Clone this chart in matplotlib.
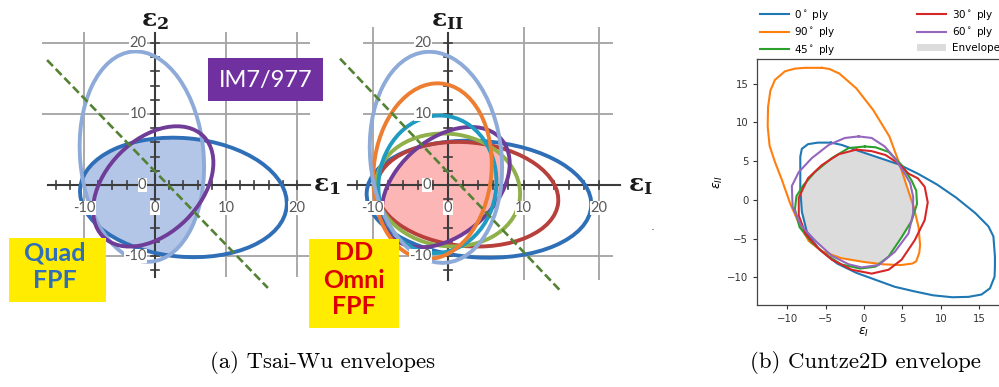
import numpy as np
import matplotlib
matplotlib.use("Agg")
import matplotlib.pyplot as plt
from matplotlib.patches import Ellipse, Rectangle

W, H = 999, 387

# ---- (a) Tsai-Wu ply ellipses in strain space: centre, semi-axes, tilt (deg) ----
quad_plies = ["0", "90", "45"]
quad_cx = [4.0, -1.85, -0.25]
quad_cy = [-1.75, 4.0, -0.2]
quad_a = [14.6, 14.85, 10.0]
quad_b = [8.35, 8.7, 6.6]
quad_tilt = [-5, 95, 45]
quad_colors = ["#2e6fb7", "#8eaad8", "#6f3d98"]
quad_envelope = ["0", "90"]
quad_cut_x = [-15.2, 15.9]
quad_cut_y = [17.6, -14.5]

omni_plies = ["0", "15", "30", "45", "60", "75", "90"]
omni_cx = [4.1, 2.55, 0.0, -0.3, -1.4, -2.05, -1.6]
omni_cy = [-2.0, -1.3, -0.7, -0.3, 0.1, 1.95, 3.9]
omni_a = [14.9, 12.1, 9.6, 10.0, 9.7, 12.4, 14.9]
omni_b = [8.2, 7.3, 7.9, 6.6, 7.8, 7.8, 8.7]
omni_tilt = [-4, -6, -10, 45, 85, 85, 95]
omni_colors = ["#2e6fb7", "#b8403c", "#8fb04a", "#6f3d98", "#1f9ac0", "#ed7d31", "#8eaad8"]
omni_envelope = ["0", "15", "45", "90"]
omni_cut_x = [-14.3, 14.8]
omni_cut_y = [17.8, -14.8]

tick_label_vals = [-10, 0, 10, 20]
ytick_label_vals = [20, 10, 0, -10]
grid_vals = [-10, 10, 20]
minor_vals = [v for v in range(-14, 22, 2) if v != 0]

# ---- (b) Cuntze2D failure curves (eps_I, eps_II) ----
c0_x = [-4.3, -6.0, -7.3, -8.1, -8.3, -8.3, -8.3, -8.1, -7.4, -5.8, -3.5, -1.0, 1.5, 4.0,
        6.6, 9.0, 11.5, 13.6, 15.3, 16.4, 17.0, 17.05, 17.05, 16.85, 16.2, 14.5, 12.0, 9.5,
        7.0, 4.5, 1.5, -1.2, -2.9]
c0_y = [7.4, 7.4, 7.2, 6.6, 5.6, 4.0, 1.5, -1.5, -4.3, -6.4, -8.2, -9.4, -10.3, -11.2,
        -11.8, -12.3, -12.55, -12.5, -12.2, -11.4, -9.9, -8.6, -7.3, -4.7, -3.4, -1.7, 0.3,
        2.0, 3.4, 4.6, 5.6, 6.5, 7.1]
c90_x = [-5.5, -7.7, -9.0, -10.3, -11.6, -12.2, -12.5, -12.55, -12.3, -11.6, -10.7, -9.6,
         -8.4, -7.2, -5.5, -3.0, 0.0, 2.5, 4.8, 6.3, 6.8, 7.2, 7.3, 7.1, 6.5, 5.6, 4.6, 3.3,
         1.2, -1.0, -3.2, -4.5]
c90_y = [17.05, 17.05, 16.95, 16.6, 15.5, 14.1, 12.0, 9.5, 7.0, 4.9, 2.6, -0.5, -3.2, -5.3,
         -6.6, -7.5, -8.0, -8.3, -8.4, -8.2, -7.9, -6.8, -5.8, -3.5, -1.0, 1.7, 4.7, 8.2,
         11.6, 14.4, 16.3, 16.9]
c45_x = [0.1, -2.0, -4.2, -6.4, -7.9, -8.8, -9.0, -8.4, -6.8, -5.0, -3.0, -0.5, 1.5, 3.2,
         4.9, 6.2, 6.9, 6.8, 6.2, 4.9, 3.2, 1.5]
c45_y = [6.9, 6.7, 5.4, 3.6, 1.9, 0.5, -1.2, -3.5, -5.5, -7.0, -8.3, -8.85, -8.6, -7.3,
         -4.8, -2.7, -0.5, 1.2, 2.5, 4.5, 6.2, 6.8]
c30_x = [-1.0, -3.3, -5.5, -7.3, -8.5, -8.5, -7.6, -6.0, -4.2, -1.6, 1.0, 3.2, 4.9, 6.6,
         7.9, 8.3, 7.9, 7.0, 5.8, 4.5, 2.8, 1.0]
c30_y = [6.5, 5.9, 4.5, 2.8, 0.3, -2.0, -4.4, -6.2, -7.7, -9.0, -9.5, -9.0, -7.7, -5.2,
         -2.6, -0.3, 1.7, 2.8, 3.4, 4.7, 5.8, 6.3]
c60_x = [-0.7, -2.5, -4.6, -6.8, -8.5, -9.4, -9.3, -8.2, -6.2, -4.2, -2.0, -0.3, 1.9, 4.0,
         5.8, 6.4, 6.4, 6.0, 5.3, 4.0, 2.7, 1.0]
c60_y = [8.2, 8.0, 7.1, 5.4, 3.6, 1.8, -0.9, -3.3, -5.4, -7.2, -8.3, -8.7, -8.4, -6.7,
         -4.3, -1.7, 0.4, 2.2, 3.4, 5.4, 6.9, 8.0]

cuntze_labels = ["0$^\\circ$ ply", "90$^\\circ$ ply", "45$^\\circ$ ply",
                 "30$^\\circ$ ply", "60$^\\circ$ ply"]
cuntze_x = [c0_x, c90_x, c45_x, c30_x, c60_x]
cuntze_y = [c0_y, c90_y, c45_y, c30_y, c60_y]
cuntze_colors = ["#1f77b4", "#ff7f0e", "#2ca02c", "#d62728", "#9467bd"]
envelope_color = "#dcdcdc"

theta = np.linspace(0, 2 * np.pi, 721)


def ellipse_reach(cx, cy, a, b, tilt):
    # distance from the origin to the ellipse boundary along every ray
    t = np.deg2rad(tilt)
    c, s = np.cos(t), np.sin(t)
    dx, dy = np.cos(theta), np.sin(theta)
    ux, uy = c * dx + s * dy, -s * dx + c * dy
    wx, wy = c * cx + s * cy, -s * cx + c * cy
    A = ux ** 2 / a ** 2 + uy ** 2 / b ** 2
    B = ux * wx / a ** 2 + uy * wy / b ** 2
    C = wx ** 2 / a ** 2 + wy ** 2 / b ** 2 - 1
    return (B + np.sqrt(B ** 2 - A * C)) / A


def polygon_reach(px, py):
    x0, y0 = np.asarray(px, float), np.asarray(py, float)
    ex, ey = np.roll(x0, -1) - x0, np.roll(y0, -1) - y0
    dx, dy = np.cos(theta)[:, None], np.sin(theta)[:, None]
    den = dx * ey - dy * ex
    with np.errstate(divide="ignore", invalid="ignore"):
        r = (x0 * ey - y0 * ex) / den
        s = (x0 * dy - y0 * dx) / den
    r = np.where((s >= 0) & (s <= 1) & (r > 0), r, np.inf)
    return r.min(axis=1)


def fig_box(left, top, right, bottom):
    return [left / W, 1 - bottom / H, (right - left) / W, (bottom - top) / H]


def tsai_wu(box, origin, scale, plies, cx, cy, a, b, tilt, colors, members, fill,
            cut_x, cut_y, grid_x, grid_y, axis_x, axis_y, ylab_x, lab_top, lab_right):
    left, top, right, bottom = box
    ox, oy = origin
    sx, sy = scale
    ax = fig.add_axes(fig_box(*box))
    ax.set_xlim((left - ox) / sx, (right - ox) / sx)
    ax.set_ylim((oy - bottom) / sy, (oy - top) / sy)
    ax.axis("off")

    grid_kw = dict(color="#a3a3a3", lw=1.3, zorder=1, solid_capstyle="butt")
    for v in grid_vals:
        ax.plot([v, v], grid_y, **grid_kw)
        ax.plot(grid_x, [v, v], **grid_kw)

    r = np.full(theta.shape, np.inf)
    for i, p in enumerate(plies):
        if p in members:
            r = np.minimum(r, ellipse_reach(cx[i], cy[i], a[i], b[i], tilt[i]))
    ax.fill(r * np.cos(theta), r * np.sin(theta), color=fill, lw=0, zorder=2)

    axis_kw = dict(color="#3c3c3c", lw=1.5, zorder=3)
    ax.plot(axis_x, [0, 0], **axis_kw)
    ax.plot([0, 0], axis_y, **axis_kw)
    hx, hy = 4.0 / sx, 4.0 / sy
    for v in minor_vals:
        if axis_x[0] < v < axis_x[1]:
            ax.plot([v, v], [-hy, hy], color="#3c3c3c", lw=1.2, zorder=3)
        if axis_y[0] < v < axis_y[1]:
            ax.plot([-hx, hx], [v, v], color="#3c3c3c", lw=1.2, zorder=3)

    for i in range(len(plies)):
        ax.add_patch(Ellipse((cx[i], cy[i]), 2 * a[i], 2 * b[i], angle=tilt[i],
                             fill=False, ec=colors[i], lw=2.8, zorder=4))

    ax.plot(cut_x, cut_y, color="#548235", lw=1.9, ls=(0, (3.2, 1.5)), zorder=5)

    lab_kw = dict(fontsize=10.5, family="Lato", color="#595959", zorder=6,
                  bbox=dict(fc="white", ec="none", pad=0.3))
    for v in tick_label_vals:
        ax.text(v, -23 / sy, str(v), ha="center", va="center", **lab_kw)
    for v in ytick_label_vals:
        ax.text(ylab_x, v, str(v), ha="right", va="center", **lab_kw)

    ax.text(0, (oy - 20) / sy, lab_top, ha="center", va="center", fontsize=18,
            math_fontfamily="dejavuserif", color="#1a1a1a", zorder=6)
    ax.text((lab_right[0] - ox) / sx, 0, lab_right[1], ha="center", va="center",
            fontsize=18, math_fontfamily="dejavuserif", color="#1a1a1a", zorder=6)
    return ax


fig = plt.figure(figsize=(W / 100, H / 100), dpi=100)

tsai_wu((0, 0, 335, 340), (155, 185), (7.1, 7.1), quad_plies, quad_cx, quad_cy, quad_a,
        quad_b, quad_tilt, quad_colors, quad_envelope, "#b4c6e7", quad_cut_x, quad_cut_y,
        [-15.9, 21.8], [-13.0, 21.5], [-15.1, 21.8], [-13.0, 21.4], -1.2,
        r"$\mathbf{\varepsilon_2}$", (327, r"$\mathbf{\varepsilon_1}$"))
tsai_wu((335, 0, 670, 340), (448, 185), (7.55, 7.1), omni_plies, omni_cx, omni_cy, omni_a,
        omni_b, omni_tilt, omni_colors, omni_envelope, "#fdb6b6", omni_cut_x, omni_cut_y,
        [-11.2, 21.8], [-13.4, 22.3], [-13.2, 22.8], [-13.4, 21.4], -2.2,
        r"$\mathbf{\varepsilon_{II}}$", (640, r"$\mathbf{\varepsilon_{I}}$"))

# ---- (b) Cuntze2D panel ----
axb = fig.add_axes(fig_box(757.3, 59.3, 1005.3, 305))
for xs, ys, lab, col in zip(cuntze_x, cuntze_y, cuntze_labels, cuntze_colors):
    axb.plot(xs + xs[:1], ys + ys[:1], color=col, lw=1.5, label=lab, solid_joinstyle="round")
r = np.full(theta.shape, np.inf)
for xs, ys in zip(cuntze_x, cuntze_y):
    r = np.minimum(r, polygon_reach(xs, ys))
axb.fill(r * np.cos(theta), r * np.sin(theta), color=envelope_color, lw=0, zorder=1,
         label="Envelope")
axb.set_xlim(-13.9, 18.4)
axb.set_ylim(-13.55, 18.15)
axb.set_xticks([-10, -5, 0, 5, 10, 15])
axb.set_yticks([-10, -5, 0, 5, 10, 15])
axb.tick_params(labelsize=7.3, length=3, width=0.8, colors="#333333")
for sp in axb.spines.values():
    sp.set_linewidth(0.9)
    sp.set_color("#444444")
axb.set_xlabel(r"$\varepsilon_I$", fontsize=9)
axb.set_ylabel(r"$\varepsilon_{II}$", fontsize=9)
axb.xaxis.set_label_coords(0.43, -0.085)
axb.yaxis.set_label_coords(-0.13, 0.5)
handles, labels = axb.get_legend_handles_labels()
axb.legend(handles, labels, ncol=2, loc="upper left", bbox_to_anchor=(0.011, 1.21),
           frameon=False, fontsize=7.5, handlelength=2.8, handletextpad=0.5,
           columnspacing=7.8, borderpad=0, borderaxespad=0, labelspacing=0.35)

# ---- labels, boxes and captions on a pixel overlay ----
ov = fig.add_axes([0, 0, 1, 1])
ov.set_xlim(0, W)
ov.set_ylim(H, 0)
ov.axis("off")
ov.patch.set_alpha(0)

ov.add_patch(Rectangle((208, 58), 115, 43, color="#7030a0", lw=0))
ov.text(265.5, 80, "IM7/977", color="white", fontsize=17, family="Lato",
        ha="center", va="center")

ov.add_patch(Rectangle((9, 238), 97, 64, color="#ffec00", lw=0))
for txt, yy in [("Quad", 253), ("FPF", 280)]:
    ov.text(55, yy, txt, color="#2f6eba", fontsize=18, family="Lato", weight="bold",
            ha="center", va="center")

ov.add_patch(Rectangle((309, 239), 90, 89, color="#ffec00", lw=0))
for txt, yy in [("DD", 253), ("Omni", 280), ("FPF", 307)]:
    ov.text(354, yy, txt, color="#dd0000", fontsize=18, family="Lato", weight="bold",
            ha="center", va="center")

ov.text(653, 226, ".", color="#555555", fontsize=9, ha="center", va="center")

ov.text(323, 362, "(a) Tsai-Wu envelopes", family="cmr10", fontsize=16.4,
        ha="center", va="center")
ov.text(865, 362, "(b) Cuntze2D envelope", family="cmr10", fontsize=16.4,
        ha="center", va="center")

fig.savefig("out.png", dpi=100)
